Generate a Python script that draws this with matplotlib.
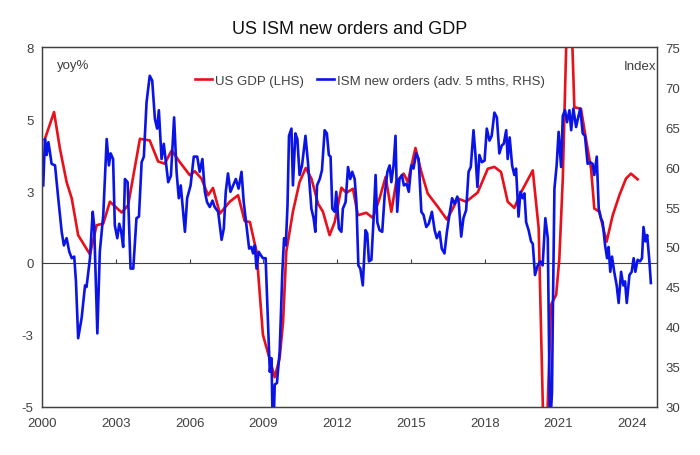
import numpy as np
import matplotlib
matplotlib.use("Agg")
import matplotlib.pyplot as plt

plt.rcParams['font.family'] = ['Liberation Sans', 'DejaVu Sans']

# US GDP, yoy % (LHS)
gdp_year = [2000.12, 2000.49, 2000.73, 2001.00, 2001.21, 2001.47, 2001.95, 2002.22, 2002.49, 2002.76,
            2003.24, 2003.50, 2003.98, 2004.38, 2004.72, 2004.99, 2005.27, 2005.60, 2006.01, 2006.21,
            2006.48, 2006.75, 2006.95, 2007.23, 2007.63, 2007.97, 2008.24, 2008.45, 2008.72, 2008.98,
            2009.46, 2009.66, 2009.80, 2009.93, 2010.20, 2010.47, 2010.72, 2010.95, 2011.22, 2011.42,
            2011.69, 2011.90, 2012.17, 2012.37, 2012.64, 2012.84, 2013.18, 2013.45, 2013.72, 2013.97,
            2014.20, 2014.40, 2014.70, 2014.87, 2015.18, 2015.42, 2015.68, 2016.09, 2016.46, 2016.70,
            2016.90, 2017.24, 2017.71, 2018.12, 2018.39, 2018.66, 2018.93, 2019.20, 2019.41, 2019.95,
            2020.19, 2020.44, 2020.69, 2020.90, 2021.03, 2021.17, 2021.42, 2021.64, 2021.91, 2022.11,
            2022.32, 2022.45, 2022.65, 2022.95, 2023.20, 2023.47, 2023.74, 2023.94, 2024.21]
gdp_yoy = [4.6, 5.59, 4.23, 3.0, 2.39, 1.03, 0.32, 1.4, 1.46, 2.27,
           1.87, 2.14, 4.6, 4.54, 3.76, 3.68, 4.17, 3.74, 3.25, 3.40,
           3.13, 2.51, 2.78, 1.83, 2.27, 2.51, 1.55, 1.52, 0.42, -2.66,
           -4.23, -3.52, -2.17, 0.42, 1.9, 3.0, 3.52, 3.13, 2.2, 1.9,
           1.03, 1.52, 2.79, 2.6, 2.75, 1.77, 1.86, 1.67, 2.39, 3.19,
           1.9, 3.0, 3.31, 3.0, 4.26, 3.37, 2.57, 2.08, 1.61, 2.02,
           2.39, 2.27, 2.61, 3.49, 3.56, 3.37, 2.27, 2.04, 2.51, 3.43,
           1.28, -8.5, -1.55, -1.18, 0.17, 3.13, 12.0, 5.77, 5.71, 4.6,
           3.49, 2.02, 1.9, 0.79, 1.77, 2.51, 3.13, 3.31, 3.1]

# ISM new orders, advanced 5 months (RHS)
ism_year = [2000.05, 2000.12, 2000.19, 2000.26, 2000.32, 2000.39, 2000.53, 2000.66, 2000.80, 2000.89,
            2001.00, 2001.11, 2001.21, 2001.31, 2001.38, 2001.47, 2001.61, 2001.75, 2001.81, 2001.95,
            2002.06, 2002.12, 2002.25, 2002.35, 2002.49, 2002.63, 2002.72, 2002.79, 2002.89, 2002.96,
            2003.06, 2003.14, 2003.22, 2003.30, 2003.37, 2003.48, 2003.60, 2003.71, 2003.84, 2003.94,
            2004.05, 2004.14, 2004.25, 2004.38, 2004.48, 2004.59, 2004.68, 2004.75, 2004.86, 2004.95,
            2005.13, 2005.24, 2005.37, 2005.47, 2005.56, 2005.64, 2005.81, 2005.90, 2006.04, 2006.17,
            2006.31, 2006.41, 2006.52, 2006.62, 2006.71, 2006.82, 2006.93, 2007.02, 2007.16, 2007.30,
            2007.39, 2007.47, 2007.56, 2007.66, 2007.77, 2007.88, 2007.99, 2008.11, 2008.20, 2008.31,
            2008.42, 2008.51, 2008.58, 2008.65, 2008.72, 2008.81, 2008.89, 2008.98, 2009.09, 2009.19,
            2009.26, 2009.33, 2009.39, 2009.46, 2009.55, 2009.66, 2009.77, 2009.84, 2009.91, 2009.98,
            2010.04, 2010.14, 2010.20, 2010.30, 2010.38, 2010.47, 2010.57, 2010.71, 2010.81, 2010.95,
            2011.04, 2011.11, 2011.18, 2011.29, 2011.38, 2011.49, 2011.58, 2011.66, 2011.73, 2011.80,
            2011.90, 2011.96, 2012.07, 2012.17, 2012.23, 2012.34, 2012.44, 2012.53, 2012.61, 2012.71,
            2012.78, 2012.86, 2012.94, 2013.04, 2013.15, 2013.22, 2013.29, 2013.39, 2013.48, 2013.56,
            2013.63, 2013.72, 2013.83, 2013.93, 2014.04, 2014.13, 2014.20, 2014.29, 2014.37, 2014.44,
            2014.53, 2014.63, 2014.71, 2014.82, 2014.91, 2015.01, 2015.10, 2015.21, 2015.31, 2015.42,
            2015.51, 2015.62, 2015.72, 2015.85, 2015.96, 2016.05, 2016.16, 2016.25, 2016.36, 2016.46,
            2016.56, 2016.67, 2016.77, 2016.88, 2016.94, 2017.04, 2017.13, 2017.24, 2017.34, 2017.43,
            2017.54, 2017.62, 2017.70, 2017.78, 2017.88, 2017.99, 2018.08, 2018.19, 2018.28, 2018.39,
            2018.49, 2018.59, 2018.69, 2018.77, 2018.87, 2018.93, 2019.01, 2019.11, 2019.20, 2019.27,
            2019.37, 2019.45, 2019.54, 2019.61, 2019.68, 2019.78, 2019.88, 2019.95, 2020.04, 2020.15,
            2020.25, 2020.35, 2020.46, 2020.56, 2020.65, 2020.73, 2020.77, 2020.83, 2020.92, 2021.00,
            2021.10, 2021.17, 2021.26, 2021.34, 2021.44, 2021.51, 2021.60, 2021.71, 2021.81, 2021.88,
            2021.98, 2022.07, 2022.18, 2022.28, 2022.38, 2022.45, 2022.55, 2022.63, 2022.72, 2022.79,
            2022.89, 2022.97, 2023.03, 2023.10, 2023.17, 2023.26, 2023.36, 2023.44, 2023.54, 2023.63,
            2023.70, 2023.77, 2023.88, 2023.97, 2024.05, 2024.12, 2024.21, 2024.31, 2024.39, 2024.45,
            2024.53, 2024.60, 2024.69, 2024.75]
ism_index = [57.7, 63.5, 61.5, 63.1, 61.9, 60.4, 60.2, 56.1, 51.9, 50.2,
             51.1, 49.4, 48.6, 48.8, 45.7, 38.6, 41.1, 45.2, 45.0, 48.6,
             54.4, 52.7, 39.2, 49.4, 54.0, 63.5, 60.2, 61.7, 61.0, 52.7,
             51.1, 52.9, 51.9, 50.0, 58.5, 58.1, 47.3, 47.3, 53.6, 53.8,
             60.6, 61.3, 68.1, 71.4, 70.8, 66.0, 64.8, 67.1, 61.0, 62.9,
             58.1, 58.9, 66.2, 59.4, 56.1, 57.7, 51.9, 56.1, 57.7, 61.3,
             61.3, 59.4, 61.0, 56.9, 55.6, 55.0, 55.8, 55.0, 54.4, 50.9,
             52.3, 56.9, 59.2, 56.9, 57.7, 58.5, 57.3, 59.4, 55.6, 52.7,
             49.8, 50.0, 49.2, 50.2, 47.3, 49.4, 49.0, 48.6, 48.6, 40.3,
             34.4, 36.1, 25.0, 32.8, 33.0, 36.9, 46.9, 51.1, 50.2, 55.2,
             63.9, 64.8, 57.7, 64.2, 63.5, 59.0, 60.2, 63.9, 60.6, 54.8,
             53.6, 51.9, 57.7, 58.5, 59.6, 64.6, 64.2, 61.5, 61.3, 54.8,
             54.4, 56.9, 52.3, 51.9, 54.8, 55.6, 60.0, 58.5, 59.4, 58.5,
             55.6, 47.7, 47.3, 45.2, 52.1, 51.7, 48.2, 48.4, 53.6, 59.0,
             53.1, 52.1, 51.9, 56.5, 59.4, 60.2, 58.1, 60.2, 63.9, 54.4,
             58.5, 59.0, 57.7, 57.9, 56.9, 60.2, 59.8, 61.7, 61.0, 54.4,
             54.0, 52.5, 52.9, 54.4, 52.1, 51.1, 51.9, 49.8, 49.2, 51.9,
             54.0, 56.1, 55.4, 56.3, 55.6, 51.3, 53.6, 54.6, 59.4, 60.0,
             64.6, 61.5, 57.5, 61.5, 60.6, 60.8, 64.8, 63.3, 63.9, 66.8,
             66.2, 61.7, 62.7, 62.9, 64.6, 61.0, 63.7, 60.2, 59.0, 59.8,
             53.8, 56.9, 56.1, 56.7, 53.1, 52.1, 50.7, 50.4, 46.5, 47.7,
             48.2, 47.7, 53.6, 51.1, 27.1, 31.8, 42.8, 57.3, 60.2, 64.4,
             60.0, 66.4, 67.1, 65.6, 67.1, 64.6, 67.3, 65.0, 66.4, 67.3,
             64.2, 63.9, 60.4, 60.6, 60.4, 59.0, 61.3, 54.8, 53.6, 53.1,
             50.2, 48.6, 50.0, 46.9, 48.8, 46.9, 45.2, 43.0, 46.9, 45.2,
             45.7, 43.0, 46.5, 46.9, 48.6, 46.9, 48.4, 48.2, 48.6, 52.5,
             50.7, 51.5, 48.2, 45.5]

year_ticks = [2000, 2003, 2006, 2009, 2012, 2015, 2018, 2021, 2024]
lhs_ticks = np.linspace(-16 / 3, 8, 6)
lhs_labels = ['-5', '-3', '0', '3', '5', '8']
rhs_ticks = list(range(30, 80, 5))

text_col = '#404040'
red = '#E8101A'
blue = '#0A14E6'

fig = plt.figure(figsize=(7, 4.56), dpi=100)
ax = fig.add_axes([0.06, 0.1053, 0.8786, 0.7894])
ax2 = ax.twinx()

line_gdp, = ax.plot(gdp_year, gdp_yoy, color=red, lw=1.9, label='US GDP (LHS)')
line_ism, = ax2.plot(ism_year, ism_index, color=blue, lw=1.9, label='ISM new orders (adv. 5 mths, RHS)')

ax.set_xlim(2000, 2025)
ax.set_ylim(-16 / 3, 8)
ax2.set_ylim(30, 75)
ax.set_xticks(year_ticks)
ax.set_xticklabels([str(y) for y in year_ticks])
ax.set_yticks(lhs_ticks)
ax.set_yticklabels(lhs_labels)
ax2.set_yticks(rhs_ticks)

for a in (ax, ax2):
    a.tick_params(length=0, labelsize=9.5, labelcolor=text_col, pad=6)
    for s in a.spines.values():
        s.set_color(text_col)
        s.set_linewidth(0.9)
ax.tick_params(axis='x', pad=7)

# horizontal axis line at zero with small upward ticks
zero_frac = (16 / 3) / (8 + 16 / 3)
zax = ax.secondary_xaxis(zero_frac)
zax.set_xticks(year_ticks)
zax.tick_params(direction='in', length=3, width=0.8, color=text_col, labelbottom=False)
zax.spines['bottom'].set_color(text_col)
zax.spines['bottom'].set_linewidth(0.8)

ax.text(0.024, 0.95, 'yoy%', transform=ax.transAxes, fontsize=9.5, color=text_col,
        ha='left', va='center')
ax.text(0.999, 0.947, 'Index', transform=ax.transAxes, fontsize=9.5, color=text_col,
        ha='right', va='center')

ax2.legend(handles=[line_gdp, line_ism], loc='center', bbox_to_anchor=(0.533, 0.906),
           ncol=2, frameon=False, fontsize=9.5, handlelength=1.3, handletextpad=0.2,
           columnspacing=1.0, labelcolor=text_col)

fig.suptitle('US ISM new orders and GDP', x=0.5, y=0.955, fontsize=13, color='#111111')

fig.savefig('out.png', dpi=100)
